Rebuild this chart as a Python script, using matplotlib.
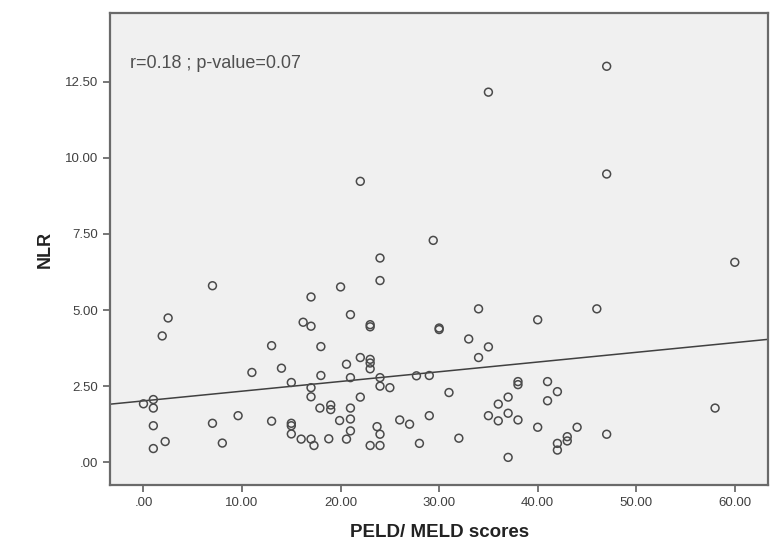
import matplotlib
matplotlib.use("Agg")
import matplotlib.pyplot as plt
import numpy as np
from matplotlib.ticker import FuncFormatter

plt.rcParams['font.family'] = ['Liberation Sans', 'DejaVu Sans']

# PELD/MELD score vs NLR
score = [0, 1, 1, 1, 1, 2.2, 2.5, 1.9, 7, 7,
         8, 9.6, 11, 13, 13, 14, 15, 15, 15, 15,
         16, 16.2, 17, 17, 17, 17, 17, 17.3, 17.9, 18,
         18, 18.8, 19, 19, 19.9, 20, 20.6, 20.6, 21, 21,
         21, 21, 21, 22, 22, 22, 23, 23, 23, 23,
         23, 23, 23.7, 24, 24, 24, 24, 24, 24, 25,
         26, 27, 27.7, 28, 29, 29, 29.4, 30, 30, 31,
         32, 33, 34, 34, 35, 35, 35, 36, 36, 37,
         37, 37, 38, 38, 38, 40, 40, 41, 41, 42,
         42, 42, 43, 43, 44, 46, 47, 47, 47, 58,
         60]
nlr = [1.92, 2.06, 1.78, 1.2, 0.45, 0.68, 4.74, 4.15, 5.8, 1.28,
       0.63, 1.53, 2.95, 3.83, 1.35, 3.09, 2.62, 1.28, 1.2, 0.93,
       0.76, 4.6, 5.43, 4.47, 2.45, 2.15, 0.76, 0.55, 1.78, 3.8,
       2.85, 0.77, 1.88, 1.73, 1.37, 5.76, 3.22, 0.76, 4.85, 2.78,
       1.78, 1.42, 1.03, 9.23, 3.44, 2.14, 4.52, 4.45, 3.38, 3.26,
       3.07, 0.55, 1.17, 6.71, 5.97, 2.78, 2.5, 0.92, 0.55, 2.45,
       1.39, 1.25, 2.84, 0.62, 2.85, 1.53, 7.29, 4.41, 4.36, 2.29,
       0.79, 4.05, 5.04, 3.44, 12.16, 3.79, 1.53, 1.91, 1.36, 2.14,
       1.61, 0.16, 2.65, 2.55, 1.39, 4.68, 1.15, 2.65, 2.02, 2.32,
       0.62, 0.4, 0.84, 0.7, 1.15, 5.04, 13.01, 9.47, 0.92, 1.78,
       6.57]

x_ticks = [0, 10, 20, 30, 40, 50, 60]
y_ticks = [0, 2.5, 5, 7.5, 10, 12.5]
stats_text = "r=0.18 ; p-value=0.07"

x = np.array(score)
y = np.array(nlr)

fig = plt.figure(figsize=(7.8, 5.55), dpi=100)
ax = fig.add_axes([0.141, 0.126, 0.844, 0.85])
ax.set_facecolor('#f0f0f0')

ax.scatter(x, y, s=32, facecolors='none', edgecolors='#4a4a4a', linewidths=1.1, zorder=3)

# linear fit line across the whole axis
xlim = (-3.4, 63.4)
slope, icpt = np.polyfit(x, y, 1)
xx = np.array(xlim)
ax.plot(xx, icpt + slope * xx, color='#404040', lw=1.1, zorder=2)

ax.set_xlim(*xlim)
ax.set_ylim(-0.75, 14.75)
ax.set_xticks(x_ticks)
ax.set_yticks(y_ticks)

def spss_fmt(v, pos):
    s = f"{v:.2f}"
    return s[1:] if s.startswith("0") else s

ax.xaxis.set_major_formatter(FuncFormatter(spss_fmt))
ax.yaxis.set_major_formatter(FuncFormatter(spss_fmt))
ax.tick_params(direction='out', length=5, width=1.2, colors='#606060',
               labelcolor='#404040', labelsize=9.5)

for sp in ax.spines.values():
    sp.set_color('#6a6a6a')
    sp.set_linewidth(1.6)

ax.set_xlabel("PELD/ MELD scores", fontsize=13.5, fontweight='bold', color='#222222', labelpad=11)
ax.set_ylabel("NLR", fontsize=13, fontweight='bold', color='#222222', labelpad=8)

ax.text(0.03, 0.894, stats_text, transform=ax.transAxes, fontsize=13,
        color='#505050', va='center', ha='left')

fig.savefig("out.png", dpi=100)
